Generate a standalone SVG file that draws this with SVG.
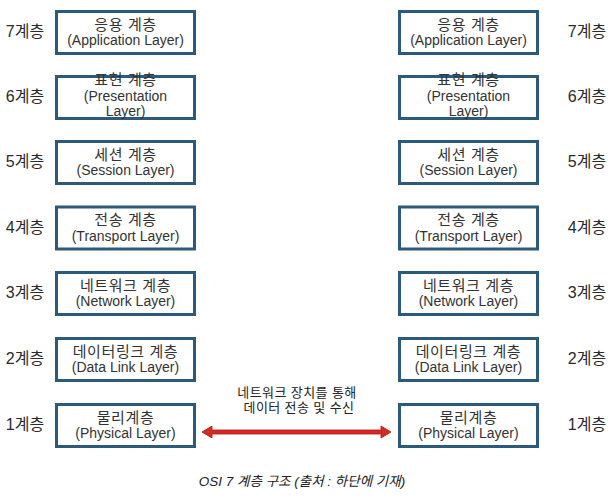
<svg xmlns="http://www.w3.org/2000/svg" width="615" height="497" viewBox="0 0 615 497">
<style>
.box{fill:#fff;stroke:#2c5a7a;stroke-width:3}
.t{font-family:"Liberation Sans","Noto Sans CJK KR",sans-serif;font-size:14px;fill:#333;text-anchor:middle}
.k{font-size:15px;letter-spacing:0.6px}
.lv{font-family:"Liberation Sans","Noto Sans CJK KR",sans-serif;font-size:16px;fill:#2a2a2a;text-anchor:middle}
.cap{font-family:"Liberation Sans","Noto Sans CJK KR",sans-serif;font-size:13.5px;font-style:italic;fill:#222;text-anchor:middle}
.m{font-family:"Liberation Sans","Noto Sans CJK KR",sans-serif;font-size:13px;letter-spacing:0.4px;fill:#222;text-anchor:middle}
</style>
<rect width="615" height="497" fill="#fff"/>
<g id="left7"><rect class="box" x="56.5" y="11.5" width="138" height="42"/><text class="t k" x="125.5" y="30">응용 계층</text><text class="t" x="125.5" y="45">(Application Layer)</text></g>
<g id="left6"><rect class="box" x="56.5" y="76.5" width="138" height="42"/><text class="t k" x="125.5" y="85">표현 계층</text><text class="t" x="125.5" y="101">(Presentation</text><text class="t" x="125.5" y="116">Layer)</text></g>
<g id="left5"><rect class="box" x="56.5" y="141.5" width="138" height="42"/><text class="t k" x="125.5" y="160">세션 계층</text><text class="t" x="125.5" y="175">(Session Layer)</text></g>
<g id="left4"><rect class="box" x="56.5" y="207" width="138" height="42"/><text class="t k" x="125.5" y="225">전송 계층</text><text class="t" x="125.5" y="241">(Transport Layer)</text></g>
<g id="left3"><rect class="box" x="56.5" y="272.5" width="138" height="42"/><text class="t k" x="125.5" y="291">네트워크 계층</text><text class="t" x="125.5" y="306">(Network Layer)</text></g>
<g id="left2"><rect class="box" x="56.5" y="338.5" width="138" height="42"/><text class="t k" x="125.5" y="357">데이터링크 계층</text><text class="t" x="125.5" y="372">(Data Link Layer)</text></g>
<g id="left1"><rect class="box" x="56.5" y="404.5" width="138" height="42"/><text class="t k" x="125.5" y="423">물리계층</text><text class="t" x="125.5" y="438">(Physical Layer)</text></g>

<g id="right7"><rect class="box" x="399.5" y="11.5" width="138" height="42"/><text class="t k" x="468.5" y="30">응용 계층</text><text class="t" x="468.5" y="45">(Application Layer)</text></g>
<g id="right6"><rect class="box" x="399.5" y="76.5" width="138" height="42"/><text class="t k" x="468.5" y="85">표현 계층</text><text class="t" x="468.5" y="101">(Presentation</text><text class="t" x="468.5" y="116">Layer)</text></g>
<g id="right5"><rect class="box" x="399.5" y="141.5" width="138" height="42"/><text class="t k" x="468.5" y="160">세션 계층</text><text class="t" x="468.5" y="175">(Session Layer)</text></g>
<g id="right4"><rect class="box" x="399.5" y="207" width="138" height="42"/><text class="t k" x="468.5" y="225">전송 계층</text><text class="t" x="468.5" y="241">(Transport Layer)</text></g>
<g id="right3"><rect class="box" x="399.5" y="272.5" width="138" height="42"/><text class="t k" x="468.5" y="291">네트워크 계층</text><text class="t" x="468.5" y="306">(Network Layer)</text></g>
<g id="right2"><rect class="box" x="399.5" y="338.5" width="138" height="42"/><text class="t k" x="468.5" y="357">데이터링크 계층</text><text class="t" x="468.5" y="372">(Data Link Layer)</text></g>
<g id="right1"><rect class="box" x="399.5" y="404.5" width="138" height="42"/><text class="t k" x="468.5" y="423">물리계층</text><text class="t" x="468.5" y="438">(Physical Layer)</text></g>

<g id="levels">
<text class="lv" x="25" y="37">7계층</text><text class="lv" x="25" y="102">6계층</text><text class="lv" x="25" y="167">5계층</text><text class="lv" x="25" y="233">4계층</text><text class="lv" x="25" y="298">3계층</text><text class="lv" x="25" y="364">2계층</text><text class="lv" x="25" y="430">1계층</text>
<text class="lv" x="587" y="37">7계층</text><text class="lv" x="587" y="102">6계층</text><text class="lv" x="587" y="167">5계층</text><text class="lv" x="587" y="233">4계층</text><text class="lv" x="587" y="298">3계층</text><text class="lv" x="587" y="364">2계층</text><text class="lv" x="587" y="430">1계층</text>
</g>

<g id="connectors">
<path d="M202,432 L212,426 L212,430 L381,430 L381,426 L391,432 L381,438 L381,434 L212,434 L212,438 Z" fill="#d42a22" stroke="#b01818" stroke-width="0.8"/>
</g>
<text class="m" x="297" y="397">네트워크 장치를 통해</text>
<text class="m" x="299" y="412">데이터 전송 및 수신</text>
<text class="cap" x="302" y="486">OSI 7 계층 구조 (출처 : 하단에 기재)</text>
</svg>
